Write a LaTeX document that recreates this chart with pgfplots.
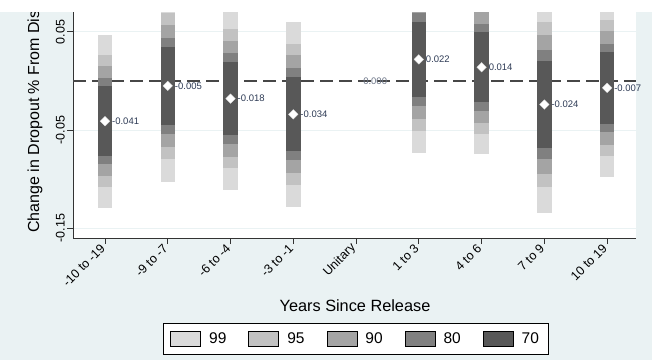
\documentclass[border=0pt]{standalone}
\usepackage{pgfplots}
\pgfplotsset{compat=1.18}
\usepackage{pgfplotstable}
\usepackage{fontspec}
\setmainfont{Liberation Sans}
\definecolor{bgblue}{HTML}{EAF2F3}
\definecolor{c99}{HTML}{DADADA}
\definecolor{c95}{HTML}{C2C2C2}
\definecolor{c90}{HTML}{A4A4A4}
\definecolor{c80}{HTML}{808080}
\definecolor{c70}{HTML}{585858}
\definecolor{lab}{HTML}{2E3B55}
\pgfplotstableread{
x c h99 h95 h90 h80 h70 lbl
0 -0.041 0.0881 0.0670 0.0563 0.0438 0.0354 -0.041
1 -0.005 0.0979 0.0745 0.0625 0.0487 0.0394 -0.005
2 -0.018 0.0927 0.0706 0.0592 0.0462 0.0373 -0.018
3 -0.034 0.0940 0.0715 0.0600 0.0468 0.0378 -0.034
5 0.022 0.0953 0.0725 0.0609 0.0474 0.0383 0.022
6 0.014 0.0889 0.0676 0.0568 0.0442 0.0357 0.014
7 -0.024 0.1108 0.0843 0.0707 0.0551 0.0445 -0.024
8 -0.007 0.0907 0.0690 0.0579 0.0451 0.0365 -0.007
}\est
\begin{document}
\begin{tikzpicture}[x=1pt,y=1pt]
\fill[bgblue] (0,0) rectangle (652,360);
\path[use as bounding box] (0,0) rectangle (652,360);
\begin{axis}[
  at={(73pt,122pt)}, anchor=south west,
  scale only axis, width=563pt, height=226pt,
  xmin=-0.51, xmax=8.46, ymin=-0.160, ymax=0.0703,
  enlargelimits=false,
  axis background/.style={fill=white},
  axis x line*=bottom, axis y line*=left,
  axis line style={-, line width=1pt, draw=black!80},
  tick align=outside, major tick length=6pt,
  tick style={line width=0.9pt, draw=black!80},
  xtick={0,1,2,3,4,5,6,7,8},
  xticklabels={-10 to -19,-9 to -7,-6 to -4,-3 to -1,Unitary,1 to 3,4 to 6,7 to 9,10 to 19},
  xticklabel style={rotate=45, anchor=east, font=\fontsize{12.5}{14}\selectfont, inner sep=3pt},
  ytick={-0.15,-0.05,0.05},
  yticklabels={-0.15,-0.05,0.05},
  yticklabel style={rotate=90, anchor=south, font=\fontsize{12.5}{14}\selectfont, inner sep=2pt},
  ymajorgrids, grid style={draw=bgblue, line width=1pt},
  legend columns=5,
  legend style={at={(0.502,-0.376)}, anchor=north, draw=black, line width=0.9pt, fill=white,
    font=\fontsize{15.5}{17}\selectfont, inner xsep=7pt, inner ysep=7.5pt,
    /tikz/every odd column/.append style={column sep=6pt},
    /tikz/every even column/.append style={column sep=20pt}},
  legend image code/.code={\fill[#1] (0pt,-7.5pt) rectangle (30pt,7.5pt);},
]
\addplot[dash pattern=on 12.5pt off 6.5pt, line width=1.6pt, draw=black!72, forget plot] coordinates {(-0.51,0) (8.46,0)};
\addplot[only marks, mark=none, forget plot, error bars/.cd, y dir=both, y explicit, error mark=none,
  error bar style={line width=14.5pt, draw=c99}] table[x=x, y=c, y error=h99] {\est};
\addplot[only marks, mark=none, forget plot, error bars/.cd, y dir=both, y explicit, error mark=none,
  error bar style={line width=14.5pt, draw=c95}] table[x=x, y=c, y error=h95] {\est};
\addplot[only marks, mark=none, forget plot, error bars/.cd, y dir=both, y explicit, error mark=none,
  error bar style={line width=14.5pt, draw=c90}] table[x=x, y=c, y error=h90] {\est};
\addplot[only marks, mark=none, forget plot, error bars/.cd, y dir=both, y explicit, error mark=none,
  error bar style={line width=14.5pt, draw=c80}] table[x=x, y=c, y error=h80] {\est};
\addplot[only marks, mark=none, forget plot, error bars/.cd, y dir=both, y explicit, error mark=none,
  error bar style={line width=14.5pt, draw=c70}] table[x=x, y=c, y error=h70] {\est};
\addplot[only marks, mark=square*, mark size=3.4pt, mark options={rotate=45, fill=white, draw=white!85!black, line width=0.3pt}, forget plot,
  point meta=explicit symbolic, nodes near coords,
  nodes near coords style={anchor=west, xshift=6.5pt, font=\fontsize{9.5}{10}\selectfont, text=lab, inner sep=0.5pt}]
  table[x=x, y=c, meta=lbl] {\est};
\addplot[only marks, mark=none, forget plot, point meta=explicit symbolic, nodes near coords,
  nodes near coords style={anchor=west, xshift=6.5pt, font=\fontsize{9.5}{10}\selectfont, text=lab!70, inner sep=0.5pt}]
  coordinates {(4,0) [0.000]};
\addlegendimage{fill=c99}\addlegendentry{99}
\addlegendimage{fill=c95}\addlegendentry{95}
\addlegendimage{fill=c90}\addlegendentry{90}
\addlegendimage{fill=c80}\addlegendentry{80}
\addlegendimage{fill=c70}\addlegendentry{70}
\end{axis}
\node[rotate=90, anchor=west, inner sep=0pt, font=\fontsize{16}{18}\selectfont] at (35,127) {Change in Dropout \% From Dis};
\node[font=\fontsize{16.3}{18}\selectfont] at (355,54) {Years Since Release};
\fill[white] (0,348) rectangle (652,360);
\end{tikzpicture}
\end{document}
